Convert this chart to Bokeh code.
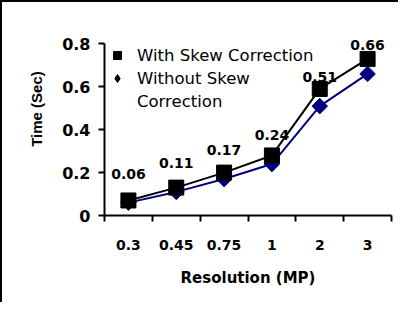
import math
import numpy as np
from bokeh.plotting import figure
from bokeh.models import (Range1d, FixedTicker, NumeralTickFormatter, Legend,
                          LegendItem, LabelSet, ColumnDataSource)
from bokeh.embed import file_html
from bokeh.resources import INLINE
from bokeh.core.properties import value

categories = ["0.3", "0.45", "0.75", "1", "2", "3"]
with_skew = [0.07, 0.13, 0.20, 0.28, 0.59, 0.73]
without_skew = [0.06, 0.11, 0.17, 0.24, 0.51, 0.66]
y_ticks = [0, 0.2, 0.4, 0.6, 0.8]

n = len(categories)
xs = [i + 0.5 for i in range(n)]
bounds = list(range(n + 1))

# layout in page pixels; canvas origin sits after the 8px margin + border
BW = 2
OX, OY = 8 + BW, 8 + BW
W, H = 398 - BW, 302 - BW
FL, FR, FB, FT = 112 - OX, 397 - OX, 221 - OY, 0
Y08 = 51 - OY
y_end = 0.8 * (FB - FT) / (FB - Y08)

p = figure(width=W, height=H, x_range=Range1d(0, n), y_range=Range1d(0, y_end),
           output_backend="svg", toolbar_location=None,
           min_border_left=FL, min_border_right=W - FR,
           min_border_top=FT, min_border_bottom=H - FB)
p.styles = {"border-top": f"{BW}px solid black", "border-left": f"{BW}px solid black",
            "box-sizing": "content-box"}
p.outline_line_color = None
p.xgrid.visible = False
p.ygrid.visible = False
p.background_fill_color = "white"
p.border_fill_color = "white"

# x axis: labels at category centres, ticks at category boundaries
xa = p.xaxis[0]
xa.ticker = FixedTicker(ticks=xs, minor_ticks=bounds)
xa.major_label_overrides = {x: c for x, c in zip(xs, categories)}
xa.major_tick_out = 0
xa.major_tick_in = 0
xa.minor_tick_out = 6
xa.minor_tick_in = 0
xa.minor_tick_line_width = 2
xa.minor_tick_line_color = "black"
xa.axis_line_width = 2
xa.axis_line_color = "black"
xa.major_label_standoff = 18
xa.major_label_text_font = "DejaVu Sans"
xa.major_label_text_font_style = "bold"
xa.major_label_text_font_size = "14px"
xa.major_label_text_color = "black"
xa.axis_label = "Resolution (MP)"
xa.axis_label_text_font = "DejaVu Sans"
xa.axis_label_text_font_style = "bold"
xa.axis_label_text_font_size = "15px"
xa.axis_label_text_color = "black"
xa.axis_label_standoff = 16

# y axis
ya = p.yaxis[0]
ya.ticker = FixedTicker(ticks=y_ticks, minor_ticks=[])
ya.formatter = NumeralTickFormatter(format="0.[0]")
ya.bounds = (0, 0.8)
ya.major_tick_out = 6
ya.major_tick_in = 0
ya.major_tick_line_width = 2
ya.major_tick_line_color = "black"
ya.minor_tick_out = 0
ya.minor_tick_in = 0
ya.axis_line_width = 2
ya.axis_line_color = "black"
ya.major_label_standoff = 8
ya.major_label_text_font = "DejaVu Sans"
ya.major_label_text_font_style = "bold"
ya.major_label_text_font_size = "16px"
ya.major_label_text_color = "black"
ya.axis_label = "Time (Sec)"
ya.axis_label_text_font = "Liberation Sans"
ya.axis_label_text_font_style = "bold"
ya.axis_label_text_font_size = "15px"
ya.axis_label_text_color = "black"
ya.axis_label_standoff = 14

navy = "#000080"
p.line(xs, without_skew, line_color=navy, line_width=2)
p.scatter(xs, without_skew, marker="square", angle=math.pi / 4, size=11,
          fill_color=navy, line_color=navy)
p.line(xs, with_skew, line_color="black", line_width=2)
r_with = p.scatter(xs, with_skew, marker="square", size=15, fill_color="black",
                   line_color="black")

src = ColumnDataSource(dict(x=xs, y=without_skew,
                            t=[f"{v:.2f}" for v in without_skew]))
p.add_layout(LabelSet(x="x", y="y", text="t", source=src,
                      text_font=value("DejaVu Sans"), text_font_style="bold",
                      text_font_size="14px", text_align="center",
                      text_baseline="middle", text_color="black", y_offset=29))

nan = np.array([np.nan])
r_leg = p.scatter(x=nan, y=nan, marker="diamond", fill_color="black",
                  line_color="black")
r_blank = p.scatter(x=nan, y=nan, marker="square", fill_alpha=0, line_alpha=0)
legend = Legend(items=[LegendItem(label="With Skew Correction", renderers=[r_with]),
                       LegendItem(label="Without Skew", renderers=[r_leg]),
                       LegendItem(label="Correction", renderers=[r_blank])],
                location=(3, 104), padding=0, margin=0, spacing=3,
                glyph_width=20, glyph_height=20, label_height=20,
                label_standoff=10,
                label_text_font="DejaVu Sans", label_text_font_size="16.5px",
                label_text_color="black",
                background_fill_alpha=0, border_line_color=None)
p.add_layout(legend)

open("out.html", "w").write(file_html(p, INLINE))
